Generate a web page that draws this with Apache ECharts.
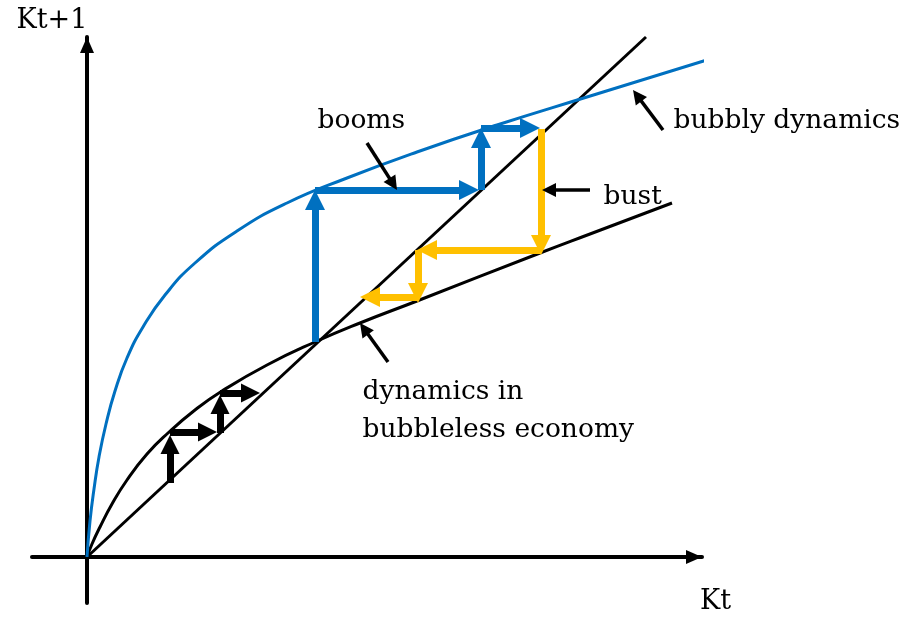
<!DOCTYPE html>
<html>
<head>
  <meta charset="UTF-8">
  <title>bubbly dynamics</title>
  <style>
    body { margin: 0; background: #fff; }
    #main { width: 914px; height: 624px; }
  </style>
  <script src="https://cdn.jsdelivr.net/npm/echarts@6.0.0/dist/echarts.min.js"></script>
</head>
<body>
<div id="main"></div>
<script type="text/javascript">
  // x = Kt, y = Kt+1, measured from the axes crossing
  const diagonal = [[0, 0], [559, 520]];
  const bubblyCurve = [[0, 0], [3, 36], [7, 68], [12, 100], [19, 133], [28, 166], [40, 199], [56, 230],
    [78, 262], [108, 294], [150, 326], [200, 354], [260, 379], [330, 405], [410, 432], [500, 460], [623, 498]];
  const bubblelessCurve = [[0, 0], [5, 13], [13, 30], [25, 53], [40, 77], [60, 103], [81, 124], [108, 147],
    [135, 166], [180, 192], [228, 215], [273, 234], [330, 256], [453, 304], [503, 323], [585, 354]];

  // arrows: [x1, y1, x2 (tip), y2 (tip)]
  const boomArrows = [[228, 215, 228, 367], [228, 367, 392, 367], [394, 367, 394, 429], [394, 429, 453, 429]];
  const bustArrows = [[454, 428, 454, 302], [454, 307, 330, 307], [331, 307, 331, 254], [331, 260, 273, 260]];
  const convergeArrows = [[83, 74, 83, 122], [83, 125, 130, 125], [133, 124, 133, 162], [133, 164, 173, 164]];
  const pointerArrows = [[280, 414, 310, 367], [503, 367, 455, 367], [576, 427, 546, 467], [301, 195, 273, 234]];

  const notes = [
    {name: 'booms', value: [230, 436]},
    {name: 'bust', value: [516, 360]},
    {name: 'bubbly dynamics', value: [586, 436]},
    {name: 'dynamics in\nbubbleless economy', value: [275, 146]}
  ];

  const FONT = 'DejaVu Serif';
  const BLUE = '#0070C0';
  const YELLOW = '#FFC000';

  // triangle head is centred on the end point, so pull the end back by half a head
  function arrowData(list, head) {
    return list.map(function (a) {
      const dx = a[2] - a[0], dy = a[3] - a[1];
      const len = Math.sqrt(dx * dx + dy * dy);
      const k = (len - head / 2) / len;
      return {coords: [[a[0], a[1]], [a[0] + dx * k, a[1] + dy * k]]};
    });
  }

  function arrowSeries(list, color, width, head) {
    return {
      type: 'lines',
      coordinateSystem: 'cartesian2d',
      symbol: ['none', 'triangle'],
      symbolSize: [0, head],
      lineStyle: {color: color, width: width, opacity: 1, curveness: 0},
      silent: true,
      z: 5,
      data: arrowData(list, head)
    };
  }

  function curveSeries(data, color, width, smooth) {
    return {
      type: 'line',
      data: data,
      smooth: smooth,
      showSymbol: false,
      lineStyle: {color: color, width: width},
      silent: true,
      z: 3
    };
  }

  const myChart = echarts.init(document.getElementById('main'));

  const option = {
    animation: false,
    backgroundColor: '#fff',
    grid: {left: 32, right: 212, top: 37, bottom: 21, outerBoundsMode: 'none'},
    graphic: [{
      type: 'text',
      left: 700,
      top: 588,
      silent: true,
      style: {text: 'Kt', font: '27px "DejaVu Serif"', fill: '#000'}
    }],
    xAxis: {
      type: 'value',
      min: -55,
      max: 615,
      axisLine: {
        onZero: true,
        symbol: ['none', 'triangle'],
        symbolSize: [14, 16],
        symbolOffset: [0, -8],
        lineStyle: {color: '#000', width: 4}
      },
      axisTick: {show: false},
      axisLabel: {show: false},
      splitLine: {show: false}
    },
    yAxis: {
      type: 'value',
      min: -46,
      max: 520,
      name: 'Kt+1',
      nameLocation: 'end',
      nameGap: 3,
      nameTextStyle: {fontFamily: FONT, fontSize: 27, color: '#000', align: 'center', padding: [0, 70, 0, 0]},
      axisLine: {
        onZero: true,
        symbol: ['none', 'triangle'],
        symbolSize: [14, 16],
        symbolOffset: [0, -8],
        lineStyle: {color: '#000', width: 4}
      },
      axisTick: {show: false},
      axisLabel: {show: false},
      splitLine: {show: false}
    },
    series: [
      curveSeries(diagonal, '#000', 3, false),
      curveSeries(bubblelessCurve, '#000', 3, 0.5),
      curveSeries(bubblyCurve, BLUE, 3, 0.5),
      arrowSeries(boomArrows, BLUE, 7, 20),
      arrowSeries(bustArrows, YELLOW, 7, 20),
      arrowSeries(convergeArrows, '#000', 7, 19),
      arrowSeries(pointerArrows, '#000', 3.5, 14),
      {
        type: 'scatter',
        data: notes,
        symbolSize: 1,
        itemStyle: {color: 'rgba(0,0,0,0)', opacity: 1},
        silent: true,
        z: 6,
        label: {
          show: true,
          position: 'right',
          distance: 0,
          formatter: '{b}',
          fontFamily: FONT,
          fontSize: 26.5,
          lineHeight: 38,
          color: '#000',
          opacity: 1,
          align: 'left'
        }
      }
    ]
  };

  myChart.setOption(option);
</script>
</body>
</html>
